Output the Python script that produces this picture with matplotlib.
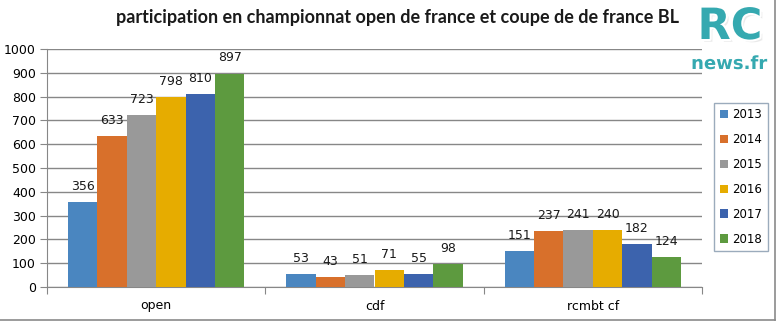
import matplotlib.pyplot as plt
import matplotlib.patheffects as pe
import numpy as np

# chart data
categories = ['open', 'cdf', 'rcmbt cf']
years = ['2013', '2014', '2015', '2016', '2017', '2018']
v2013 = [356, 53, 151]
v2014 = [633, 43, 237]
v2015 = [723, 51, 241]
v2016 = [798, 71, 240]
v2017 = [810, 55, 182]
v2018 = [897, 98, 124]
series = [v2013, v2014, v2015, v2016, v2017, v2018]
colors = ['#4a86c0', '#d8702b', '#999999', '#e6ac00', '#3c63ad', '#5d9a3f']

fig = plt.figure(figsize=(7.79, 3.23), dpi=100)
ax = fig.add_axes([47 / 779, 1 - 287 / 323, (702 - 47) / 779, (287 - 49) / 323])

x = np.arange(len(categories))
w = 0.807 / len(series)
for i, (vals, col, yr) in enumerate(zip(series, colors, years)):
    pos = x + (i - (len(series) - 1) / 2) * w
    bars = ax.bar(pos, vals, w, color=col, label=yr, zorder=3)
    for b, v in zip(bars, vals):
        ax.annotate(str(v), (b.get_x() + b.get_width() / 2, v), xytext=(0, 6.5),
                    textcoords='offset points', ha='center', va='bottom',
                    fontsize=9, color='#1a1a1a')

ax.set_xlim(-0.5, 2.5)
ax.set_ylim(0, 1000)
ax.set_yticks(np.arange(0, 1001, 100))
ax.grid(axis='y', color='#878787', linewidth=1, zorder=0)
ax.set_xticks([-0.5, 0.5, 1.5, 2.5])
ax.set_xticklabels([])
ax.set_xticks(x, minor=True)
ax.set_xticklabels(categories, minor=True)
ax.tick_params(axis='x', which='major', length=5, color='#878787')
ax.tick_params(axis='x', which='minor', length=0, pad=9, labelsize=9)
ax.tick_params(axis='y', length=5, color='#878787', labelsize=9, pad=3)
for s in ['top', 'right']:
    ax.spines[s].set_visible(False)
for s in ['left', 'bottom']:
    ax.spines[s].set_color('#878787')

fig.text(397 / 779, 1 - 18 / 323, 'participation en championnat open de france et coupe de de france BL',
         ha='center', va='center', fontsize=13, fontweight='bold', color='#1a1a1a',
         family='Lato')

leg = fig.legend(loc='center', bbox_to_anchor=(741 / 779, 1 - 177 / 323), fontsize=8.5,
                 frameon=True, fancybox=False, edgecolor='#8296ab',
                 handlelength=0.7, handleheight=0.7, handletextpad=0.3,
                 labelspacing=1.0, borderpad=0.5, borderaxespad=0)
leg.get_frame().set_linewidth(1)

# logo
t1 = fig.text(730 / 779, 1 - 27 / 323, 'RC', ha='center', va='center', fontsize=31,
              fontweight='heavy', color='#35a9b0', family='DejaVu Sans')
t1.set_path_effects([pe.withSimplePatchShadow(offset=(2, -2), shadow_rgbFace='#bbbbbb'),
                     pe.withStroke(linewidth=3, foreground='white')])
t2 = fig.text(729 / 779, 1 - 64 / 323, 'news.fr', ha='center', va='center', fontsize=13,
              fontweight='bold', color='#35a9b0', family='DejaVu Sans')
t2.set_path_effects([pe.withStroke(linewidth=2.5, foreground='white')])

# outer frame lines (bottom and right)
fig.add_artist(plt.Line2D([0, 775 / 779], [1 - 320 / 323] * 2, color='#8a8a8a', linewidth=1.2))
fig.add_artist(plt.Line2D([775 / 779] * 2, [1 - 320 / 323, 1], color='#8a8a8a', linewidth=1.2))

fig.savefig('out.png', dpi=100)
